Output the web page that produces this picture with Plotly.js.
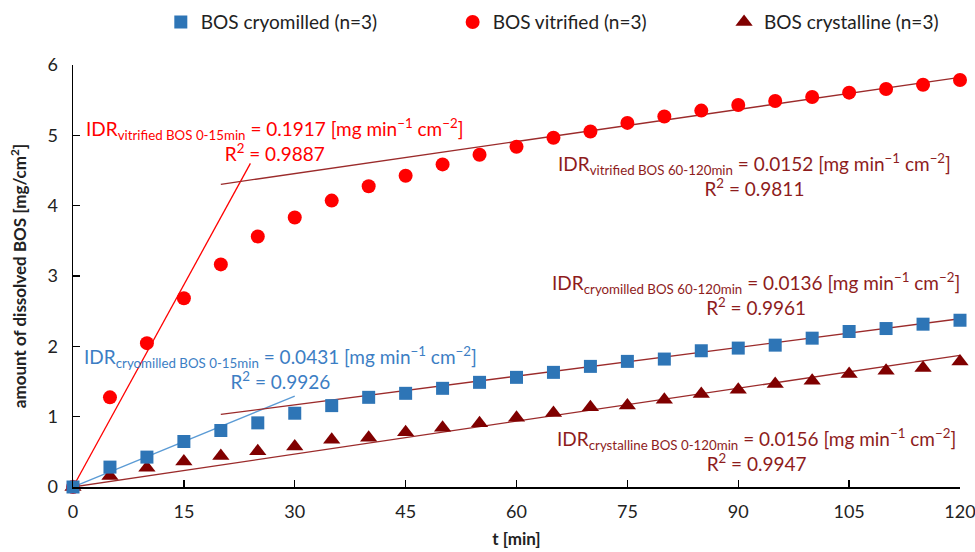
<!DOCTYPE html>
<html>
<head>
<meta charset="utf-8">
<script src="https://cdn.plot.ly/plotly-3.0.1.min.js"></script>
<style>html,body{margin:0;padding:0;background:#fff;}#chart{width:975px;height:552px;}</style>
</head>
<body>
<div id="chart"></div>
<script>
// ---- data ----
const time = [0,5,10,15,20,25,30,35,40,45,50,55,60,65,70,75,80,85,90,95,100,105,110,115,120];
const cryomilled = [0,0.283,0.425,0.647,0.803,0.912,1.049,1.157,1.275,1.332,1.403,1.488,1.559,1.630,1.715,1.786,1.819,1.937,1.975,2.017,2.116,2.211,2.253,2.315,2.371];
const vitrified = [0,1.275,2.045,2.683,3.165,3.562,3.831,4.072,4.275,4.426,4.587,4.724,4.837,4.965,5.054,5.177,5.267,5.352,5.432,5.489,5.546,5.607,5.659,5.720,5.787];
const crystalline = [0,0.156,0.274,0.364,0.439,0.510,0.576,0.671,0.699,0.779,0.841,0.907,0.983,1.053,1.134,1.157,1.242,1.323,1.384,1.464,1.512,1.606,1.653,1.691,1.786];
const seriesNames = ['BOS cryomilled (n=3)','BOS vitrified (n=3)','BOS crystalline (n=3)'];
const xTicks = [0,15,30,45,60,75,90,105,120];

// trendlines: slope, intercept, drawn range
const trendNames = ['vitrified BOS 0-15min','vitrified BOS 60-120min','cryomilled BOS 0-15min','cryomilled BOS 60-120min','crystalline BOS 0-120min'];
const trendSlope = [0.1917,0.0152,0.0431,0.0136,0.0156];
const trendIntercept = [0,4.0,0,0.76,0];
const trendFrom = [0,20,0,20,0];
const trendTo = [24,120,30,120,120];
const trendR2 = ['0.9887','0.9811','0.9926','0.9961','0.9947'];
const labelX = [27.3,92.2,28.1,92.4,92.5];
const labelY = [4.94,4.44,1.69,2.75,0.52];

// ---- styles ----
const FONT = 'Lato, "Open Sans", sans-serif';
const BLUE = '#2E75B6', RED = '#FF0000', DRED = '#800000';
const TXT_DRED = '#8E1C1C', TXT_BLUE = '#3C7EC4';
const trendColor = [RED, '#9B2B2B', '#5B9BD5', '#9B2B2B', '#9B2B2B'];
const textColor = [RED, TXT_DRED, TXT_BLUE, TXT_DRED, TXT_DRED];

const traces = [];
trendSlope.forEach((m,i)=>{
  traces.push({
    x:[trendFrom[i], trendTo[i]],
    y:[m*trendFrom[i]+trendIntercept[i], m*trendTo[i]+trendIntercept[i]],
    mode:'lines', line:{color:trendColor[i], width:1.3},
    showlegend:false, hoverinfo:'skip', cliponaxis:false
  });
});
traces.push({x:time,y:crystalline,name:seriesNames[2],mode:'markers',legend:'legend3',
  marker:{symbol:'triangle-up',size:15,color:DRED},cliponaxis:false});
traces.push({x:time,y:vitrified,name:seriesNames[1],mode:'markers',legend:'legend2',
  marker:{symbol:'circle',size:14,color:RED},cliponaxis:false});
traces.push({x:time,y:cryomilled,name:seriesNames[0],mode:'markers',legend:'legend',
  marker:{symbol:'square',size:13,color:BLUE},cliponaxis:false});

const annotations = trendNames.map((n,i)=>({
  x:labelX[i], y:labelY[i], xref:'x', yref:'y', xanchor:'center', yanchor:'middle',
  showarrow:false, align:'center',
  text:'IDR<sub>'+n+'</sub> = '+trendSlope[i].toFixed(4)+' [mg min<sup>−1</sup> cm<sup>−2</sup>]<br>R<sup>2</sup> = '+trendR2[i],
  font:{family:FONT,size:19,color:textColor[i]}
}));

const legBase = {orientation:'h', yref:'container', yanchor:'middle', y:0.96, xanchor:'left',
  font:{family:FONT,size:19,color:'#222'}, bgcolor:'rgba(0,0,0,0)'};

const layout = {
  width:975, height:552,
  margin:{l:73,r:15,t:65,b:65},
  paper_bgcolor:'#fff', plot_bgcolor:'#fff',
  font:{family:FONT,color:'#222'},
  showlegend:true,
  legend:Object.assign({x:0.099},legBase),
  legend2:Object.assign({x:0.428},legBase),
  legend3:Object.assign({x:0.734},legBase),
  xaxis:{range:[0,120], tickvals:xTicks, ticktext:xTicks.map(String), showgrid:false, zeroline:false,
    showline:true, linecolor:'#000', linewidth:1.5, ticks:'inside', ticklen:7, tickcolor:'#000', tickwidth:1.3,
    ticklabelstandoff:8, ticklabeloverflow:'allow',
    tickfont:{family:FONT,size:18,color:'#222'},
    title:{text:'<b>t [min]</b>', font:{family:FONT,size:17,color:'#222'}, standoff:12}},
  yaxis:{range:[0,6], dtick:1, showgrid:false, zeroline:false,
    showline:true, linecolor:'#000', linewidth:1.5, ticks:'inside', ticklen:7, tickcolor:'#000', tickwidth:1.3,
    ticklabelstandoff:10, ticklabeloverflow:'allow',
    tickfont:{family:FONT,size:18,color:'#222'},
    title:{text:'<b>amount of dissolved BOS [mg/cm<sup>2</sup>]</b>', font:{family:FONT,size:17,color:'#222'}, standoff:16}},
  annotations:annotations
};
Plotly.newPlot('chart', traces, layout, {displayModeBar:false, staticPlot:true});
</script>
</body>
</html>
